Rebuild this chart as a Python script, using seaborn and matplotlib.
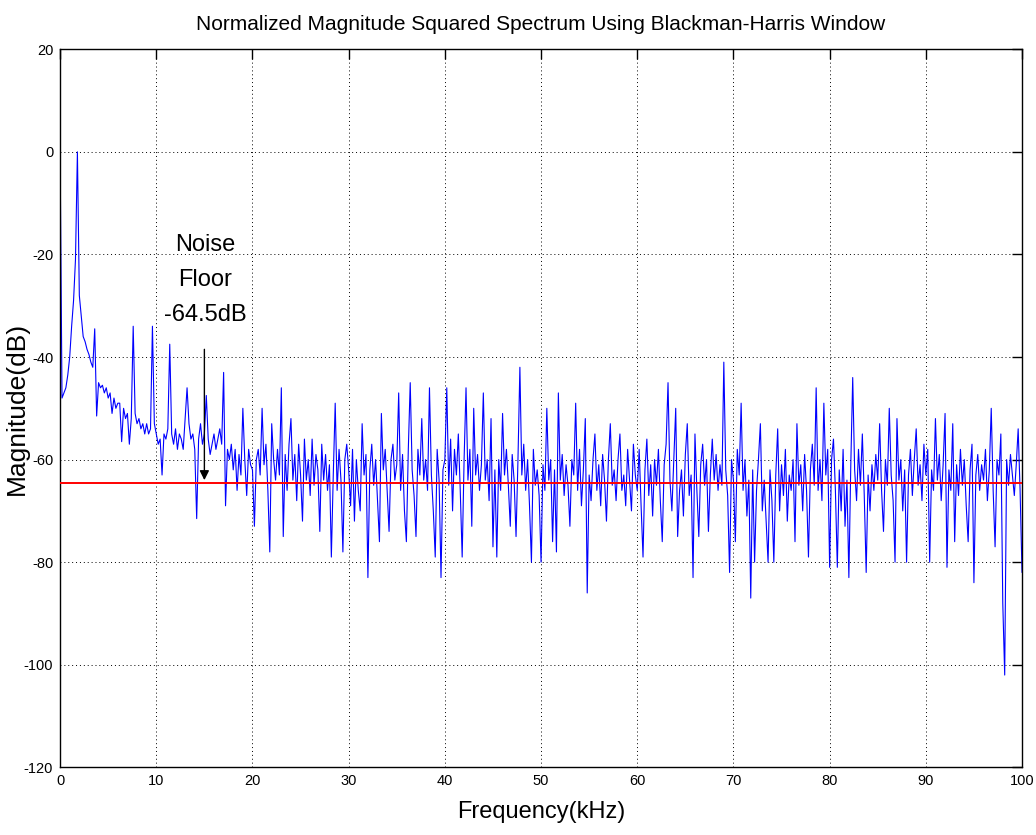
import matplotlib
matplotlib.use("Agg")
import matplotlib.pyplot as plt
import numpy as np
import pandas as pd
import seaborn as sns

# magnitude (dB), one value per 0.2 kHz, split by decade
mag_0_10 = [0, -48, -47, -46, -43.5, -40, -34, -29, -21, 0,
            -28, -32, -36, -37, -38.5, -39.5, -41, -42, -34.5, -51.5,
            -45, -46, -45.5, -47, -46, -48, -47, -51, -48, -50,
            -49, -49, -56.5, -50, -52, -51, -57, -52, -34, -51,
            -53, -52, -54, -53, -55, -53, -55, -54, -34, -53]
mag_10_20 = [-55, -57, -56, -63, -55, -56, -54, -37.5, -55, -57,
             -54, -58, -55, -56, -58, -52, -46, -53, -56, -55,
             -58, -71.5, -56, -53, -57, -55, -47.5, -56, -59, -57,
             -55, -58, -56, -54, -57, -43, -69, -58, -60, -57,
             -62, -58, -66, -59, -63, -50, -60, -67, -58, -61]
mag_20_30 = [-62, -73, -60, -58, -63, -50, -61, -57, -66, -78,
             -53, -60, -64, -58, -63, -46, -75, -59, -66, -57,
             -52, -64, -59, -68, -57, -63, -72, -56, -64, -60,
             -67, -56, -65, -59, -62, -74, -57, -64, -59, -66,
             -61, -79, -63, -49, -66, -58, -64, -78, -60, -57]
mag_30_40 = [-62, -69, -58, -72, -60, -66, -70, -53, -63, -59,
             -83, -62, -57, -65, -60, -68, -76, -51, -62, -58,
             -66, -74, -60, -57, -64, -61, -47, -66, -59, -70,
             -76, -58, -45, -62, -67, -75, -58, -63, -52, -64,
             -60, -66, -46, -63, -70, -79, -58, -64, -83, -62]
mag_40_50 = [-60, -46, -65, -56, -70, -58, -63, -55, -66, -79,
             -60, -46, -64, -58, -73, -50, -63, -59, -66, -61,
             -47, -64, -60, -68, -52, -77, -62, -79, -60, -66,
             -51, -63, -58, -65, -73, -59, -64, -75, -60, -42,
             -63, -57, -66, -60, -69, -80, -58, -65, -62, -67]
mag_50_60 = [-80, -61, -66, -50, -64, -60, -76, -62, -78, -47,
             -64, -59, -67, -61, -65, -73, -60, -63, -49, -66,
             -58, -69, -62, -52, -86, -63, -68, -60, -55, -66,
             -61, -69, -59, -64, -72, -60, -53, -65, -62, -68,
             -60, -55, -66, -63, -69, -58, -64, -70, -57, -63]
mag_60_70 = [-66, -58, -69, -79, -62, -56, -67, -61, -71, -60,
             -65, -58, -68, -76, -61, -57, -45, -64, -70, -60,
             -50, -75, -66, -62, -71, -59, -53, -67, -63, -83,
             -55, -66, -75, -61, -57, -65, -60, -74, -63, -56,
             -64, -59, -66, -61, -65, -41, -62, -67, -82, -60]
mag_70_80 = [-64, -76, -58, -63, -49, -66, -60, -71, -64, -87,
             -62, -80, -66, -60, -53, -70, -64, -72, -80, -62,
             -68, -80, -63, -54, -70, -61, -67, -58, -72, -63,
             -66, -60, -76, -53, -65, -61, -70, -59, -66, -79,
             -62, -57, -65, -46, -66, -60, -68, -49, -63, -58]
mag_80_90 = [-81, -60, -56, -66, -81, -62, -70, -58, -73, -64,
             -83, -61, -44, -62, -68, -58, -65, -55, -67, -82,
             -63, -70, -61, -66, -59, -64, -53, -66, -74, -60,
             -65, -50, -63, -68, -80, -52, -64, -60, -70, -62,
             -80, -63, -58, -67, -60, -54, -65, -61, -68, -57]
mag_90_100 = [-63, -58, -80, -62, -66, -52, -64, -59, -68, -61,
              -51, -81, -62, -66, -53, -76, -61, -67, -58, -65,
              -60, -69, -76, -62, -57, -84, -63, -59, -66, -61,
              -64, -58, -68, -62, -50, -66, -77, -60, -63, -55,
              -88, -102, -60, -65, -59, -63, -67, -61, -54, -66,
              -82]

NOISE_FLOOR = -64.5
X_TICKS = list(range(0, 101, 10))
Y_TICKS = list(range(-120, 21, 20))


def main() -> None:
    sns.set_style("white")
    plt.rcParams["font.family"] = ["Liberation Sans Narrow", "Liberation Sans", "DejaVu Sans"]
    plt.rcParams["axes.unicode_minus"] = False
    plt.rcParams["text.color"] = "black"
    plt.rcParams["axes.labelcolor"] = "black"

    mag = (mag_0_10 + mag_10_20 + mag_20_30 + mag_30_40 + mag_40_50
           + mag_50_60 + mag_60_70 + mag_70_80 + mag_80_90 + mag_90_100)
    freq = np.linspace(0, 100, len(mag))
    df = pd.DataFrame({"freq": freq, "mag": mag})

    fig = plt.figure(figsize=(10.36, 8.35), dpi=100)
    ax = fig.add_axes([0.058, 0.081, 0.9285, 0.860])

    sns.lineplot(data=df, x="freq", y="mag", ax=ax, color="#0000ff",
                 linewidth=0.8, estimator=None, sort=False)
    ax.axhline(NOISE_FLOOR, color="#ff0000", linewidth=1.4, zorder=3)

    ax.set_xlim(0, 100)
    ax.set_ylim(-120, 20)
    ax.set_xticks(X_TICKS)
    ax.set_yticks(Y_TICKS)
    ax.grid(True, color="black", linestyle=(0, (1, 3)), linewidth=0.7)
    ax.tick_params(direction="in", length=7, width=1, top=True, right=True,
                   labelsize=10.5, pad=5, colors="black")
    for sp in ax.spines.values():
        sp.set_color("black")
        sp.set_linewidth(1.0)

    ax.set_title("Normalized Magnitude Squared Spectrum Using Blackman-Harris Window",
                 fontsize=15, pad=14)
    ax.set_xlabel("Frequency(kHz)", fontsize=17)
    ax.xaxis.set_label_coords(0.5, -0.047)
    ax.set_ylabel("Magnitude(dB)", fontsize=19,
                  family=["Liberation Sans", "DejaVu Sans"])
    ax.yaxis.set_label_coords(-0.0445, 0.5)
    ax.yaxis.label.set_verticalalignment("center")

    ax.text(15.1, -25, "Noise\nFloor\n-64.5dB", ha="center", va="center",
            fontsize=17, linespacing=1.75)
    ax.annotate("", xy=(15.0, -64.0), xytext=(15.0, -38.5),
                arrowprops=dict(arrowstyle="-|>", color="black", lw=1.0,
                                mutation_scale=14, shrinkA=0, shrinkB=0))

    fig.savefig("out.png", dpi=100)
    plt.close(fig)


if __name__ == "__main__":
    main()
